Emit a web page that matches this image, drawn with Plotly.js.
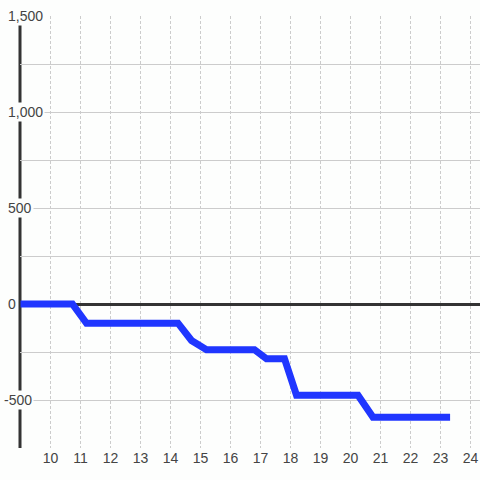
<!DOCTYPE html>
<html>
<head>
<meta charset="utf-8">
<script src="https://cdn.plot.ly/plotly-3.0.1.min.js"></script>
<style>html,body{margin:0;padding:0;background:#fdfefd;}#chart{width:480px;height:480px;}</style>
</head>
<body>
<div id="chart"></div>
<script>
// Data
var xValues = [9, 10.73, 11.2, 14.25, 14.7, 15.2, 16.8, 17.2, 17.8, 18.2, 20.25, 20.75, 23.32];
var yValues = [0, 0, -100, -100, -190, -238, -238, -285, -285, -475, -475, -590, -590];
var xTickVals = [10, 11, 12, 13, 14, 15, 16, 17, 18, 19, 20, 21, 22, 23, 24];
var xTickText = ['10','11','12','13','14','15','16','17','18','19','20','21','22','23','24'];
var yLabelVals = [1500, 1000, 500, 0, -500];
var yLabelText = ['1,500', '1,000', '500', '0', '-500'];

var bg = '#fdfefd';
var annotations = yLabelVals.map(function (v, i) {
  return {
    xref: 'paper', yref: 'y', x: 0, y: v,
    xanchor: 'left', yanchor: 'middle',
    xshift: v < 0 ? -18 : -14,
    text: yLabelText[i], showarrow: false,
    font: {family: 'Liberation Sans, Arial, sans-serif', size: 14, color: '#444'},
    bgcolor: bg, borderpad: 1
  };
});

var trace = {
  x: xValues, y: yValues, type: 'scatter', mode: 'lines',
  line: {color: '#2036ff', width: 7},
  hoverinfo: 'skip'
};

var layout = {
  width: 480, height: 480,
  margin: {l: 20, r: 0, t: 16, b: 32},
  paper_bgcolor: bg, plot_bgcolor: bg,
  showlegend: false,
  xaxis: {
    range: [8.983, 24.317],
    tickvals: xTickVals, ticktext: xTickText,
    showgrid: true, gridcolor: '#cccccc', gridwidth: 1, griddash: '3px,2px',
    zeroline: false, showline: false, ticks: '',
    tickfont: {family: 'Liberation Sans, Arial, sans-serif', size: 14, color: '#444'}
  },
  yaxis: {
    range: [-750, 1500],
    tick0: 0, dtick: 250,
    showgrid: true, gridcolor: '#cccccc', gridwidth: 1,
    zeroline: true, zerolinecolor: '#333333', zerolinewidth: 3,
    showticklabels: false, showline: false, ticks: ''
  },
  shapes: [{
    type: 'line', xref: 'paper', yref: 'paper',
    x0: 0, x1: 0, y0: 0, y1: 1, layer: 'below',
    line: {color: '#333333', width: 3}
  }],
  annotations: annotations
};

Plotly.newPlot('chart', [trace], layout, {displayModeBar: false, staticPlot: true});
</script>
</body>
</html>
